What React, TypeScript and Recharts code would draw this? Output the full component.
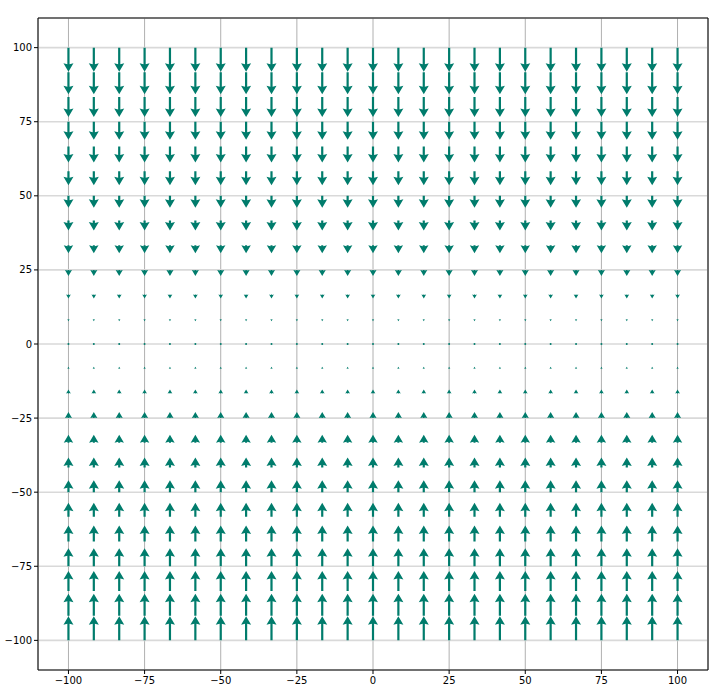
import { ScatterChart, Scatter, XAxis, YAxis, CartesianGrid, ReferenceArea } from 'recharts'

// grid of arrow tails (25 x 25)
const xs = [-100, -91.67, -83.33, -75, -66.67, -58.33, -50, -41.67, -33.33, -25, -16.67, -8.33, 0,
  8.33, 16.67, 25, 33.33, 41.67, 50, 58.33, 66.67, 75, 83.33, 91.67, 100]
const ys = [-100, -91.67, -83.33, -75, -66.67, -58.33, -50, -41.67, -33.33, -25, -16.67, -8.33, 0,
  8.33, 16.67, 25, 33.33, 41.67, 50, 58.33, 66.67, 75, 83.33, 91.67, 100]
// vertical component per row (same order as ys); horizontal component is ~0
const vs = [100, 91.67, 83.33, 75, 66.67, 58.33, 50, 41.67, 33.33, 25, 16.67, 8.33, 0,
  -8.33, -16.67, -25, -33.33, -41.67, -50, -58.33, -66.67, -75, -83.33, -91.67, -100]
const us = ys.map(() => 0)

const ticks = [-100, -75, -50, -25, 0, 25, 50, 75, 100]

const data = ys.flatMap((y, i) => xs.map(x => ({ x, y, u: us[i], v: vs[i] })))

const COLOR = '#007c6c'
const PX_PER_UNIT = 0.24 // quiver scale: magnitude 100 -> 24px
const HEAD_LEN = 8.5
const HEAD_AXIS = 7.5
const HEAD_HW = 5
const SHAFT_HW = 1.1

function Arrow(props: any) {
  const { cx, cy, payload } = props
  const dx = payload.u * PX_PER_UNIT
  const dy = -payload.v * PX_PER_UNIT
  const L = Math.sqrt(dx * dx + dy * dy)
  if (L < 1) return <circle cx={cx} cy={cy} r={1} fill={COLOR} />
  const ux = dx / L
  const uy = dy / L
  const nx = -uy
  const ny = ux
  const s = Math.min(1, L / HEAD_LEN)
  const pts: [number, number][] = [
    [0, -SHAFT_HW * s],
    [L - HEAD_AXIS * s, -SHAFT_HW * s],
    [L - HEAD_LEN * s, -HEAD_HW * s],
    [L, 0],
    [L - HEAD_LEN * s, HEAD_HW * s],
    [L - HEAD_AXIS * s, SHAFT_HW * s],
    [0, SHAFT_HW * s],
  ]
  const d = pts.map(([t, n]) => `${(cx + ux * t + nx * n).toFixed(2)},${(cy + uy * t + ny * n).toFixed(2)}`).join(' ')
  return <polygon points={d} fill={COLOR} />
}

const fmt = (v: number) => String(v).replace('-', '\u2212')
const tickStyle = { fill: '#000', fontSize: 10, fontFamily: 'DejaVu Sans' }

export default function App() {
  return (
    <div style={{ position: 'absolute', left: 0, top: 0 }}>
      <ScatterChart width={726} height={689} margin={{ top: 18, right: 18, left: 0, bottom: 0 }}>
        <CartesianGrid horizontal={false} stroke="#b0b0b0" strokeWidth={1} />
        <CartesianGrid vertical={false} stroke="#d9d9d9" strokeWidth={1.6} />
        <XAxis type="number" dataKey="x" domain={[-110, 110]} ticks={ticks} allowDataOverflow
          height={19} tickSize={4} tickMargin={3} tickFormatter={fmt} tick={tickStyle}
          stroke="#000" axisLine={false} />
        <YAxis type="number" dataKey="y" domain={[-110, 110]} ticks={ticks} allowDataOverflow
          width={38} tickSize={4} tickMargin={2} tickFormatter={fmt} tick={tickStyle}
          stroke="#000" axisLine={false} />
        <Scatter data={data} shape={(p: any) => <Arrow {...p} />} isAnimationActive={false} />
        <ReferenceArea x1={-110} x2={110} y1={-110} y2={110} fill="none" stroke="#000" strokeWidth={1} fillOpacity={0} />
      </ScatterChart>
    </div>
  )
}
